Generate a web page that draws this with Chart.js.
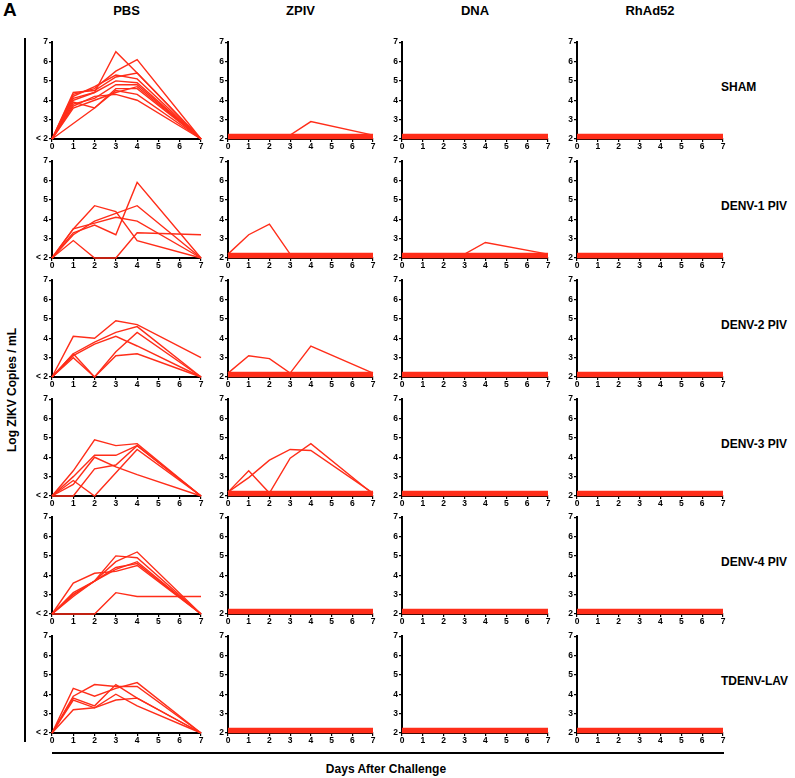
<!DOCTYPE html>
<html>
<head>
<meta charset="utf-8">
<script src="https://cdn.jsdelivr.net/npm/chart.js@4.4.1/dist/chart.umd.min.js"></script>
<style>
  body { margin: 0; background: #fff; }
  #page { position: relative; width: 795px; height: 778px; background: #fff; font-family: "Liberation Sans", Arial, sans-serif; font-weight: bold; color: #000; }
  .txt { position: absolute; white-space: nowrap; }
  .panel { position: absolute; }
  .rule { position: absolute; background: #000; }
</style>
</head>
<body>
<div id="page"></div>
<script>
// axis values
const days = [0, 1, 2, 3, 4, 7];
const xTicks = [0, 1, 2, 3, 4, 5, 6, 7];
const yTicks = [2, 3, 4, 5, 6, 7];
const columns = ['PBS', 'ZPIV', 'DNA', 'RhAd52'];
const rowNames = ['SHAM', 'DENV-1 PIV', 'DENV-2 PIV', 'DENV-3 PIV', 'DENV-4 PIV', 'TDENV-LAV'];

// undetectable animals (the thick band just above 2)
const undetectable = [2.04, 2.1, 2.16, 2.22];

// PBS column, one array per animal, values at days 0,1,2,3,4,7
const pbsSham = [
    [2, 4.1, 4.4, 6.5, 5.4, 2],
    [2, 4.3, 4.6, 5.5, 6.1, 2],
    [2, 4.4, 4.5, 5.2, 5.4, 2],
    [2, 4.2, 4.7, 5.3, 5.1, 2],
    [2, 4.0, 4.4, 5.0, 4.9, 2],
    [2, 3.8, 4.1, 4.8, 4.8, 2],
    [2, 3.9, 3.6, 4.6, 4.6, 2],
    [2, 3.6, 4.0, 4.4, 4.7, 2],
    [2, 3.7, 4.2, 4.3, 4.0, 2],
    [2, 2.8, 3.6, 4.5, 4.3, 2]
];
const pbsDenv1 = [
    [2, 3.5, 3.8, 4.1, 3.9, 2],
    [2, 3.5, 4.7, 4.4, 2.9, 2],
    [2, 3.3, 3.7, 3.2, 5.9, 2],
    [2, 2.9, 2, 2, 3.3, 3.2],
    [2, 3.2, 3.9, 4.3, 4.7, 2]
];
const pbsDenv2 = [
    [2, 4.1, 4.0, 4.9, 4.7, 3.0],
    [2, 3.2, 3.8, 4.3, 4.6, 2],
    [2, 3.1, 3.7, 4.1, 3.6, 2],
    [2, 3.0, 2, 3.3, 4.3, 2],
    [2, 3.2, 2, 3.1, 3.2, 2]
];
const pbsDenv3 = [
    [2, 3.3, 4.9, 4.6, 4.7, 2],
    [2, 3.0, 4.1, 4.1, 4.6, 2],
    [2, 2.8, 2, 3.2, 4.4, 2],
    [2, 2, 3.4, 3.6, 4.6, 2],
    [2, 2.6, 4.0, 3.5, 3.1, 2]
];
const pbsDenv4 = [
    [2, 3.6, 4.1, 4.2, 4.5, 2],
    [2, 3.1, 3.7, 5.0, 4.9, 2],
    [2, 3.0, 3.7, 4.7, 5.2, 2],
    [2, 2.9, 3.7, 4.3, 4.7, 2],
    [2, 2, 2, 3.1, 2.9, 2.9],
    [2, 3.0, 3.7, 4.4, 4.6, 2]
];
const pbsTdenv = [
    [2, 4.3, 3.9, 4.3, 4.6, 2],
    [2, 3.9, 4.5, 4.4, 4.4, 2],
    [2, 3.8, 3.4, 4.5, 3.8, 2],
    [2, 3.2, 3.3, 3.7, 3.8, 2],
    [2, 3.7, 3.3, 4.0, 3.4, 2]
];

// vaccinated groups: animals with detectable virus
const zpivSham = [[2.2, 2.2, 2.2, 2.2, 2.9, 2.2]];
const zpivDenv1 = [[2.2, 3.2, 3.75, 2.2, 2.2, 2.2]];
const zpivDenv2 = [[2.2, 3.1, 2.95, 2.2, 3.6, 2.2]];
const zpivDenv3 = [
    [2.2, 3.3, 2.15, 3.95, 4.7, 2.1],
    [2.2, 2.95, 3.85, 4.4, 4.35, 2.15]
];
const dnaDenv1 = [[2.2, 2.2, 2.2, 2.2, 2.8, 2.2]];

const grid = [
    [pbsSham, zpivSham, [], []],
    [pbsDenv1, zpivDenv1, dnaDenv1, []],
    [pbsDenv2, zpivDenv2, [], []],
    [pbsDenv3, zpivDenv3, [], []],
    [pbsDenv4, [], [], []],
    [pbsTdenv, [], [], []]
];

// layout of the plot areas
const colLeft = [52, 228, 402, 577];
const colWidth = [149, 145, 146, 146];
const rowTop = [42, 161, 280, 399, 517, 636];
const plotH = 97;
const red = 'rgb(255, 45, 25)';

const page = document.getElementById('page');

function addText(text, css) {
    const d = document.createElement('div');
    d.className = 'txt';
    d.textContent = text;
    Object.assign(d.style, css);
    page.appendChild(d);
    return d;
}
function addRule(x, y, w, h) {
    const d = document.createElement('div');
    d.className = 'rule';
    Object.assign(d.style, { left: x + 'px', top: y + 'px', width: w + 'px', height: h + 'px' });
    page.appendChild(d);
}

addText('A', { left: '3px', top: '-1px', fontSize: '19px' });
columns.forEach((c, i) => {
    addText(c, { left: (colLeft[i] + colWidth[i] / 2) + 'px', top: '3px', fontSize: '13px', transform: 'translateX(-50%)' });
});
rowNames.forEach((r, i) => {
    addText(r, { left: '721px', top: (rowTop[i] + 38) + 'px', fontSize: '12px' });
});
addText('Log ZIKV Copies / mL', { left: '12px', top: '390px', fontSize: '12px', transform: 'translate(-50%, -50%) rotate(-90deg)' });
addText('Days After Challenge', { left: '386px', top: '762px', fontSize: '12px', transform: 'translateX(-50%)' });
addRule(24, 38, 2, 704);
addRule(52, 752, 672, 2);

const padTop = 6, padRight = 8, yAxisW = 26, xAxisH = 16;

function makePanel(r, c) {
    const series = grid[r][c];
    const left = colLeft[c] - yAxisW;
    const top = rowTop[r] - padTop;
    const w = yAxisW + colWidth[c] + padRight;
    const h = padTop + plotH + xAxisH;

    const wrap = document.createElement('div');
    wrap.className = 'panel';
    Object.assign(wrap.style, { left: left + 'px', top: top + 'px', width: w + 'px', height: h + 'px' });
    const cv = document.createElement('canvas');
    wrap.appendChild(cv);
    page.appendChild(wrap);

    const datasets = [];
    if (c > 0) {
        undetectable.forEach(v => {
            datasets.push({ data: days.map(d => ({ x: d, y: v })), borderWidth: 2 });
        });
    }
    series.forEach(vals => {
        datasets.push({ data: days.map((d, i) => ({ x: d, y: vals[i] })), borderWidth: 1.4 });
    });
    datasets.forEach(ds => {
        ds.borderColor = red;
        ds.pointRadius = 0;
        ds.tension = 0;
        ds.clip = false;
        ds.fill = false;
    });

    new Chart(cv, {
        type: 'line',
        data: { datasets: datasets },
        options: {
            responsive: true,
            maintainAspectRatio: false,
            animation: false,
            events: [],
            layout: { padding: { left: 0, right: padRight, top: padTop, bottom: 0 } },
            plugins: { legend: { display: false }, tooltip: { enabled: false } },
            scales: {
                x: {
                    type: 'linear',
                    min: 0,
                    max: 7,
                    afterFit: s => { s.height = xAxisH; },
                    afterBuildTicks: s => { s.ticks = xTicks.map(v => ({ value: v })); },
                    grid: { drawOnChartArea: false, drawTicks: true, tickLength: 3, color: '#000', lineWidth: 1.2 },
                    border: { color: '#000', width: 2 },
                    ticks: { color: '#000', padding: 0, maxRotation: 0, font: { family: 'Liberation Sans', weight: 'bold', size: 8.5 } }
                },
                y: {
                    min: 2,
                    max: 7,
                    afterFit: s => { s.width = yAxisW; },
                    afterBuildTicks: s => { s.ticks = yTicks.map(v => ({ value: v })); },
                    grid: { drawOnChartArea: false, drawTicks: true, tickLength: 3, color: '#000', lineWidth: 1.2 },
                    border: { color: '#000', width: 2 },
                    ticks: {
                        color: '#000',
                        padding: 1,
                        font: { family: 'Liberation Sans', weight: 'bold', size: 8.5 },
                        callback: v => (c === 0 && v === 2) ? '< 2' : String(v)
                    }
                }
            }
        }
    });
}

for (let r = 0; r < rowNames.length; r++) {
    for (let c = 0; c < columns.length; c++) {
        makePanel(r, c);
    }
}
</script>
</body>
</html>
